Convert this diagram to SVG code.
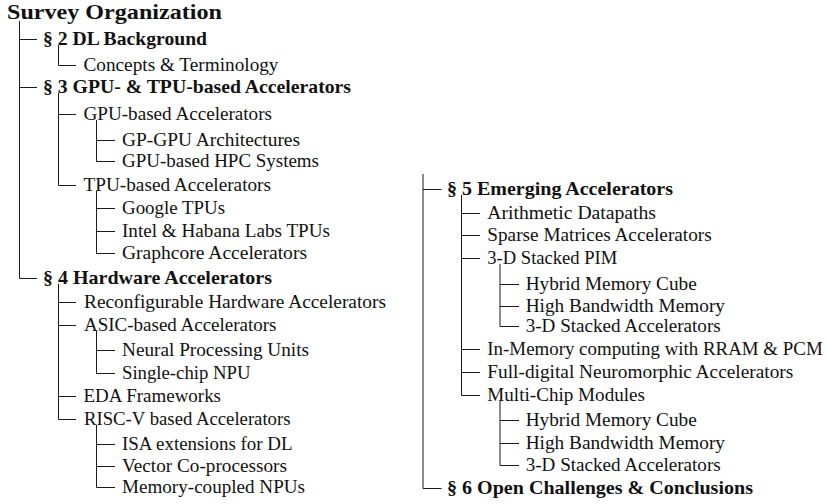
<svg xmlns="http://www.w3.org/2000/svg" width="826" height="504" viewBox="0 0 826 504">
<style>
text{font-family:"Liberation Serif","Times New Roman",serif;font-size:19px;fill:#111}
.b{font-weight:bold;font-size:19.5px}
.t{font-weight:bold;font-size:22px}
#connectors path{fill:none;stroke:#1a1a1a;stroke-width:1}
</style>
<rect width="826" height="504" fill="#fff"/>
<g id="connectors">
<path d="M19.5 21V278.5M19.5 39.5H37M19.5 87.5H37M19.5 278.5H37"/>
<path d="M58.5 45V65.5H76"/>
<path d="M58.5 93V185.5M58.5 114.5H76M58.5 185.5H76"/>
<path d="M96.5 120V161.5M96.5 140.5H115M96.5 161.5H115"/>
<path d="M96.5 191V253.5M96.5 208.5H115M96.5 231.5H115M96.5 253.5H115"/>
<path d="M58.5 284V419.5M58.5 302.5H76M58.5 325.5H76M58.5 396.5H76M58.5 419.5H76"/>
<path d="M96.5 331V373.5M96.5 350.5H115M96.5 373.5H115"/>
<path d="M96.5 425V487.5M96.5 444.5H115M96.5 466.5H115M96.5 487.5H115"/>
<path d="M423 174V488.5M423 189.5H441.5M423 488.5H441.5"/>
<path d="M461.5 195V395.5M461.5 213.5H480M461.5 235.5H480M461.5 258.5H480M461.5 349.5H480M461.5 372.5H480M461.5 395.5H480"/>
<path d="M500 264V326.5M500 284.5H519M500 306.5H519M500 326.5H519"/>
<path d="M500 401V465.5M500 420.5H519M500 443.5H519M500 465.5H519"/>
</g>
<g id="root"><text class="t" x="7" y="18.5" textLength="215" lengthAdjust="spacingAndGlyphs">Survey Organization</text></g>
<g id="s2"><text class="b" x="43" y="45" textLength="164" lengthAdjust="spacingAndGlyphs">§ 2 DL Background</text></g>
<g id="s2-concepts"><text x="83.5" y="71" textLength="195" lengthAdjust="spacingAndGlyphs">Concepts &amp; Terminology</text></g>
<g id="s3"><text class="b" x="43" y="93" textLength="308" lengthAdjust="spacingAndGlyphs">§ 3 GPU- &amp; TPU-based Accelerators</text></g>
<g id="s3-gpu"><text x="83.5" y="120" textLength="188.5" lengthAdjust="spacingAndGlyphs">GPU-based Accelerators</text></g>
<g id="s3-gpgpu"><text x="122" y="146" textLength="178" lengthAdjust="spacingAndGlyphs">GP-GPU Architectures</text></g>
<g id="s3-hpc"><text x="122" y="167" textLength="197" lengthAdjust="spacingAndGlyphs">GPU-based HPC Systems</text></g>
<g id="s3-tpu"><text x="83.5" y="191" textLength="187.5" lengthAdjust="spacingAndGlyphs">TPU-based Accelerators</text></g>
<g id="s3-google"><text x="122" y="214" textLength="103" lengthAdjust="spacingAndGlyphs">Google TPUs</text></g>
<g id="s3-intel"><text x="122" y="237" textLength="208" lengthAdjust="spacingAndGlyphs">Intel &amp; Habana Labs TPUs</text></g>
<g id="s3-graphcore"><text x="122" y="259" textLength="185" lengthAdjust="spacingAndGlyphs">Graphcore Accelerators</text></g>
<g id="s4"><text class="b" x="43" y="284" textLength="229" lengthAdjust="spacingAndGlyphs">§ 4 Hardware Accelerators</text></g>
<g id="s4-reconf"><text x="84" y="308" textLength="302" lengthAdjust="spacingAndGlyphs">Reconfigurable Hardware Accelerators</text></g>
<g id="s4-asic"><text x="84" y="331" textLength="192.5" lengthAdjust="spacingAndGlyphs">ASIC-based Accelerators</text></g>
<g id="s4-npu"><text x="122" y="356" textLength="187" lengthAdjust="spacingAndGlyphs">Neural Processing Units</text></g>
<g id="s4-single"><text x="122" y="379" textLength="128.5" lengthAdjust="spacingAndGlyphs">Single-chip NPU</text></g>
<g id="s4-eda"><text x="83.5" y="402" textLength="137.5" lengthAdjust="spacingAndGlyphs">EDA Frameworks</text></g>
<g id="s4-riscv"><text x="84" y="425" textLength="206.5" lengthAdjust="spacingAndGlyphs">RISC-V based Accelerators</text></g>
<g id="s4-isa"><text x="122" y="450" textLength="170.5" lengthAdjust="spacingAndGlyphs">ISA extensions for DL</text></g>
<g id="s4-vector"><text x="122" y="472" textLength="165" lengthAdjust="spacingAndGlyphs">Vector Co-processors</text></g>
<g id="s4-memnpu"><text x="122" y="493" textLength="183" lengthAdjust="spacingAndGlyphs">Memory-coupled NPUs</text></g>
<g id="s5"><text class="b" x="447" y="195" textLength="226" lengthAdjust="spacingAndGlyphs">§ 5 Emerging Accelerators</text></g>
<g id="s5-arith"><text x="487.3" y="219" textLength="168.7" lengthAdjust="spacingAndGlyphs">Arithmetic Datapaths</text></g>
<g id="s5-sparse"><text x="487.3" y="241" textLength="224.4" lengthAdjust="spacingAndGlyphs">Sparse Matrices Accelerators</text></g>
<g id="s5-pim"><text x="487.3" y="264" textLength="130" lengthAdjust="spacingAndGlyphs">3-D Stacked PIM</text></g>
<g id="s5-pim-hmc"><text x="525.7" y="290" textLength="171" lengthAdjust="spacingAndGlyphs">Hybrid Memory Cube</text></g>
<g id="s5-pim-hbm"><text x="525.7" y="312" textLength="199.3" lengthAdjust="spacingAndGlyphs">High Bandwidth Memory</text></g>
<g id="s5-pim-3dsa"><text x="525.7" y="332" textLength="195" lengthAdjust="spacingAndGlyphs">3-D Stacked Accelerators</text></g>
<g id="s5-imc"><text x="487.3" y="355" textLength="335.4" lengthAdjust="spacingAndGlyphs">In-Memory computing with RRAM &amp; PCM</text></g>
<g id="s5-neuro"><text x="487.3" y="378" textLength="306" lengthAdjust="spacingAndGlyphs">Full-digital Neuromorphic Accelerators</text></g>
<g id="s5-mcm"><text x="487.3" y="401" textLength="157.7" lengthAdjust="spacingAndGlyphs">Multi-Chip Modules</text></g>
<g id="s5-mcm-hmc"><text x="525.7" y="426" textLength="171" lengthAdjust="spacingAndGlyphs">Hybrid Memory Cube</text></g>
<g id="s5-mcm-hbm"><text x="525.7" y="449" textLength="199.3" lengthAdjust="spacingAndGlyphs">High Bandwidth Memory</text></g>
<g id="s5-mcm-3dsa"><text x="525.7" y="471" textLength="195" lengthAdjust="spacingAndGlyphs">3-D Stacked Accelerators</text></g>
<g id="s6"><text class="b" x="447" y="494" textLength="306" lengthAdjust="spacingAndGlyphs">§ 6 Open Challenges &amp; Conclusions</text></g>
</svg>
